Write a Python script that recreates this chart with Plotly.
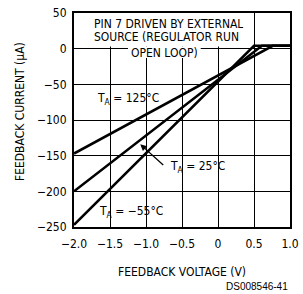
import plotly.graph_objects as go

# Data
v_125 = [-2.0, 0.76, 1.0]
i_125 = [-147, 4, 4]
v_25 = [-2.0, 0.61, 1.0]
i_25 = [-200, 4, 4]
v_m55 = [-2.0, 0.5, 1.0]
i_m55 = [-247, 4, 4]

x_ticks = [-2.0, -1.5, -1.0, -0.5, 0, 0.5, 1.0]
x_ticktext = ["−2.0", "−1.5", "−1.0", "−0.5", "0", "0.5", "1.0"]
y_ticks = [50, 0, -50, -100, -150, -200, -250]
y_ticktext = ["50", "0", "−50", "−100", "−150", "−200", "−250"]

FONT = "DejaVu Sans Condensed, Liberation Sans, sans-serif"

fig = go.Figure()
for vx, iy in [(v_125, i_125), (v_25, i_25), (v_m55, i_m55)]:
    fig.add_trace(go.Scatter(x=vx, y=iy, mode="lines",
                             line=dict(color="black", width=2.5),
                             showlegend=False, hoverinfo="skip"))

fig.update_layout(
    width=303, height=294,
    margin=dict(l=74, r=13, t=13, b=67, autoexpand=False),
    paper_bgcolor="white", plot_bgcolor="white",
    font=dict(family=FONT, size=12, color="black"),
    xaxis=dict(range=[-2.0, 1.0], tickvals=x_ticks, ticktext=x_ticktext,
               showgrid=True, gridcolor="black", gridwidth=1.4,
               showline=True, linecolor="black", linewidth=2, mirror=True,
               zeroline=False, ticks="outside", ticklen=5, tickcolor="white",
               automargin=False),
    yaxis=dict(range=[-250, 50], tickvals=y_ticks, ticktext=y_ticktext,
               showgrid=True, gridcolor="black", gridwidth=1.4,
               showline=True, linecolor="black", linewidth=2, mirror=True,
               zeroline=False, ticks="outside", ticklen=3, tickcolor="white",
               automargin=False),
)

# White panels behind the condition text (hide gridlines there)
fig.add_shape(type="rect", xref="x", yref="y", x0=-1.76, x1=0.38, y0=3, y1=50,
              fillcolor="white", line=dict(width=0), layer="between")
fig.add_shape(type="rect", xref="x", yref="y", x0=-1.25, x1=-0.24, y0=-13, y1=3,
              fillcolor="white", line=dict(width=0), layer="between")

# Axis titles
fig.add_annotation(x=-0.25, y=0.537, xref="paper", yref="paper",
                   xanchor="center", yanchor="middle",
                   text="FEEDBACK CURRENT (μA)", textangle=-90,
                   showarrow=False, font=dict(size=12))
fig.add_annotation(x=0.5, y=-0.21, xref="paper", yref="paper",
                   text="FEEDBACK VOLTAGE (V)", showarrow=False,
                   yanchor="middle", font=dict(size=12))
fig.add_annotation(x=1.0, y=-0.28, xref="paper", yref="paper",
                   xanchor="right", yanchor="middle",
                   text="DS008546-41", showarrow=False,
                   font=dict(family="Liberation Sans, Arial, sans-serif", size=10))

# Condition text
fig.add_annotation(x=-0.69, y=34, xref="x", yref="y", height=12,
                   text="PIN 7 DRIVEN BY EXTERNAL",
                   showarrow=False, font=dict(size=12))
fig.add_annotation(x=-0.72, y=17, xref="x", yref="y", height=12,
                   text="SOURCE (REGULATOR RUN",
                   showarrow=False, font=dict(size=12))
fig.add_annotation(x=-0.75, y=-5.5, xref="x", yref="y", height=12,
                   text="OPEN LOOP)", showarrow=False, font=dict(size=12))

fig.add_annotation(x=-1.25, y=-71, xref="x", yref="y",
                   text="T<sub>A</sub> = 125°C", showarrow=False,
                   font=dict(size=12))
fig.add_annotation(x=-0.28, y=-166, xref="x", yref="y",
                   text="T<sub>A</sub> = 25°C", showarrow=False,
                   font=dict(size=12))
fig.add_annotation(x=-1.08, y=-134, xref="x", yref="y",
                   ax=-0.74, ay=-165, axref="x", ayref="y",
                   text="", showarrow=True, arrowhead=2, arrowsize=1,
                   arrowwidth=1.3, arrowcolor="black")
fig.add_annotation(x=-1.21, y=-229, xref="x", yref="y",
                   text="T<sub>A</sub> = −55°C", showarrow=False,
                   font=dict(size=12))

fig.write_html("out.html", config={"displayModeBar": False},
               post_script="document.body.style.margin='0';document.body.style.padding='0';")
